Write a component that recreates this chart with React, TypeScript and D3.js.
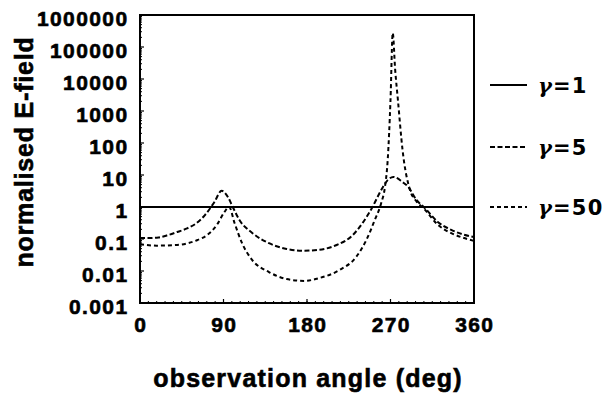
import React from 'react';
import * as d3 from 'd3';

// gamma = 1 : constant
const angles1 = [0, 360];
const values1 = [1, 1];

// gamma = 5
const angles5 = [0, 10, 20, 30, 40, 50, 60, 70, 80, 88, 95, 100, 107, 121, 139, 158, 177, 193, 212, 229, 240, 250, 260, 267, 273, 283, 289, 298, 307, 321, 336, 348, 360];
const values5 = [0.107, 0.107, 0.112, 0.132, 0.165, 0.21, 0.3, 0.56, 1.4, 3.2, 2.0, 1.0, 0.4, 0.155, 0.074, 0.049, 0.043, 0.046, 0.065, 0.13, 0.32, 0.93, 3.4, 6.9, 8.7, 6.0, 4.3, 1.66, 0.93, 0.34, 0.19, 0.14, 0.115];

// gamma = 50
const angles50 = [0, 18, 40, 62, 72, 83, 91, 96, 102, 110, 121, 139, 158, 177, 193, 215, 233, 244, 253, 260, 264, 267, 270, 272.4, 275, 278, 283, 291, 298, 307, 321, 336, 348, 360];
const values50 = [0.069, 0.062, 0.065, 0.093, 0.13, 0.28, 0.7, 1.0, 0.31, 0.074, 0.022, 0.0093, 0.0056, 0.0049, 0.006, 0.0107, 0.0275, 0.093, 0.39, 1.33, 4.2, 30, 2200, 275000, 20000, 2200, 60, 3.4, 1.5, 0.83, 0.28, 0.15, 0.11, 0.087];

const xTicks = [0, 90, 180, 270, 360];
const xTickLabels = ['0', '90', '180', '270', '360'];
const yTicks = [0.001, 0.01, 0.1, 1, 10, 100, 1000, 10000, 100000, 1000000];
const yTickLabels = ['0.001', '0.01', '0.1', '1', '10', '100', '1000', '10000', '100000', '1000000'];
const legendSymbol = 'γ';
const legendLabels = ['=1', '=5', '=50'];
const legendDash = ['none', '5,2.5', '4,3'];
const xTitle = 'observation angle (deg)';
const yTitle = 'normalised E-field';

export default function App() {
  const W = 609, H = 404;
  const left = 140, right = 474, top = 15, bottom = 303;
  const x = d3.scaleLinear().domain([0, 360]).range([left, right]);
  const y = d3.scaleLog().domain([0.001, 1000000]).range([bottom, top]);

  const line = d3.line<[number, number]>()
    .x(d => x(d[0]))
    .y(d => y(d[1]))
    .curve(d3.curveMonotoneX);

  const series = [
    { a: angles1, v: values1, dash: legendDash[0] },
    { a: angles5, v: values5, dash: legendDash[1] },
    { a: angles50, v: values50, dash: legendDash[2] },
  ];

  const minorY: number[] = [];
  for (let k = -3; k < 6; k++) {
    for (let m = 2; m <= 9; m++) minorY.push(m * Math.pow(10, k));
  }
  const minorX: number[] = d3.range(0, 361, 9);

  const font = '"Liberation Sans", Arial, sans-serif';
  const legendFont = '"DejaVu Sans", sans-serif';
  const legendY = [85, 147, 207];

  return (
    <svg width={W} height={H} style={{ position: 'absolute', left: 0, top: 0, background: '#fff' }}>
      <rect x={0} y={0} width={W} height={H} fill="#fff" />
      {/* minor ticks */}
      {minorY.map((v, i) => (
        <line key={'my' + i} x1={left} x2={left + 2} y1={y(v)} y2={y(v)} stroke="#000" strokeWidth={1} />
      ))}
      {yTicks.map((v, i) => (
        <line key={'My' + i} x1={left} x2={left + 4} y1={y(v)} y2={y(v)} stroke="#000" strokeWidth={1.2} />
      ))}
      {minorX.map((v, i) => (
        <line key={'mx' + i} x1={x(v)} x2={x(v)} y1={bottom} y2={bottom - 2} stroke="#000" strokeWidth={1} />
      ))}
      {xTicks.map((v, i) => (
        <line key={'Mx' + i} x1={x(v)} x2={x(v)} y1={bottom} y2={bottom - 4} stroke="#000" strokeWidth={1.2} />
      ))}
      {/* series */}
      {series.map((s, i) => (
        <path
          key={'s' + i}
          d={line(s.a.map((a, j) => [a, s.v[j]] as [number, number])) || ''}
          fill="none"
          stroke="#000"
          strokeWidth={2}
          strokeDasharray={s.dash === 'none' ? undefined : s.dash}
        />
      ))}
      {/* frame */}
      <rect x={left} y={top} width={right - left} height={bottom - top} fill="none" stroke="#000" strokeWidth={2} />
      {/* y tick labels */}
      {yTicks.map((v, i) => (
        <text key={'yl' + i} x={128.5} y={y(v) + 10.5} textAnchor="end" fontFamily={font} fontWeight="bold" fontSize={21} letterSpacing={1.4} stroke="#000" strokeWidth={0.6}>
          {yTickLabels[i]}
        </text>
      ))}
      {/* x tick labels */}
      {xTicks.map((v, i) => (
        <text key={'xl' + i} x={x(v) + 0.7} y={332} textAnchor="middle" fontFamily={font} fontWeight="bold" fontSize={21} letterSpacing={1.3} stroke="#000" strokeWidth={0.6}>
          {xTickLabels[i]}
        </text>
      ))}
      {/* axis titles */}
      <text x={308} y={387} textAnchor="middle" fontFamily={font} fontWeight="bold" fontSize={25} letterSpacing={1.2} stroke="#000" strokeWidth={0.6}>
        {xTitle}
      </text>
      <text transform="translate(33,152) rotate(-90)" textAnchor="middle" fontFamily={font} fontWeight="bold" fontSize={25} letterSpacing={0.8} stroke="#000" strokeWidth={0.6}>
        {yTitle}
      </text>
      {/* legend */}
      {legendLabels.map((lab, i) => (
        <g key={'lg' + i}>
          <line x1={490} x2={527} y1={legendY[i]} y2={legendY[i]} stroke="#000" strokeWidth={2} strokeDasharray={legendDash[i] === 'none' ? undefined : legendDash[i]} />
          <text x={538} y={legendY[i] + 7.5} fontFamily={legendFont} fontWeight="bold" fontSize={21} letterSpacing={1.2}>
            <tspan fontFamily='"DejaVu Serif", serif' fontStyle="italic">{legendSymbol}</tspan>{lab}
          </text>
        </g>
      ))}
    </svg>
  );
}
